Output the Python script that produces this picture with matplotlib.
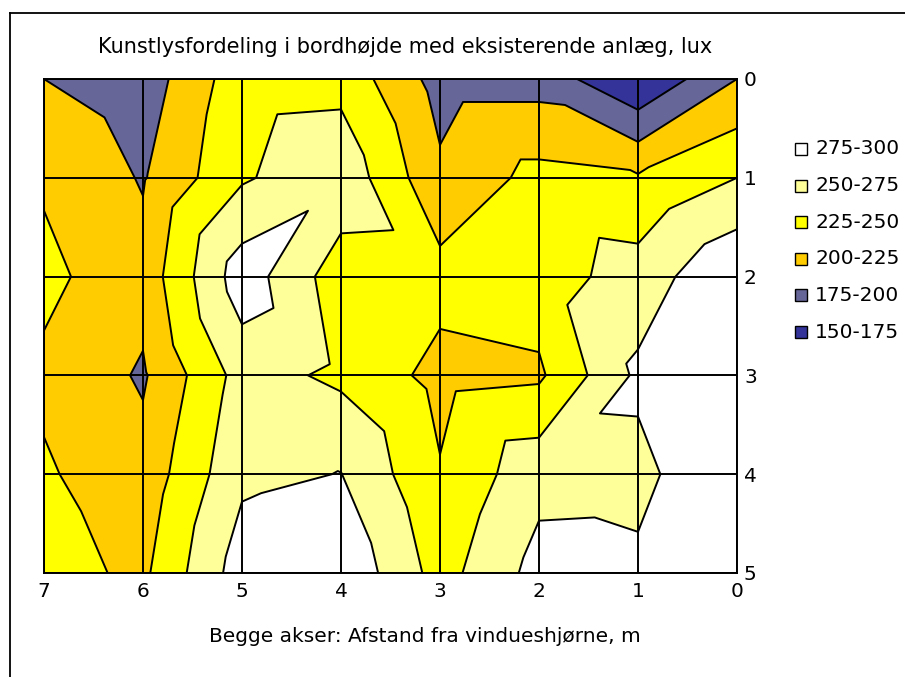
import numpy as np
import matplotlib.pyplot as plt
import matplotlib.tri as mtri
from matplotlib.lines import Line2D
from matplotlib.patches import Rectangle

plt.rcParams['font.family'] = ['DejaVu Sans']

# distances from the window corner, m
x_pos = [0, 1, 2, 3, 4, 5, 6, 7]
y_pos = [0, 1, 2, 3, 4, 5]

# lux at table height, one row per y, columns x = 0..7
lux_y0 = [200, 151, 190, 190, 242, 240, 186, 200]
lux_y1 = [250, 228, 233, 205, 268, 247, 198, 222]
lux_y2 = [298, 261, 238, 234, 236, 289, 209, 231]
lux_y3 = [295, 280, 221, 217, 245, 260, 197, 220]
lux_y4 = [299, 268, 267, 227, 275.5, 270, 209, 228]
lux_y5 = [295, 280, 284, 240, 296, 288, 220, 234]

levels = [150, 175, 200, 225, 250, 275, 300]
band_labels = ['150-175', '175-200', '200-225', '225-250', '250-275', '275-300']
band_colors = ['#333399', '#666699', '#FFCC00', '#FFFF00', '#FFFF99', '#FFFFFF']

grid = np.array([lux_y0, lux_y1, lux_y2, lux_y3, lux_y4, lux_y5], dtype=float)
nx, ny = len(x_pos), len(y_pos)

# Excel style surface: every cell cut into 4 triangles around its centre,
# centre value taken from the higher of the two diagonals
px, py, pv = [], [], []
for j in range(ny):
    for i in range(nx):
        px.append(x_pos[i]); py.append(y_pos[j]); pv.append(grid[j, i])
tris = []
for j in range(ny - 1):
    for i in range(nx - 1):
        a, b = j * nx + i, j * nx + i + 1
        c, d = (j + 1) * nx + i + 1, (j + 1) * nx + i
        diag1 = (grid[j, i] + grid[j + 1, i + 1]) / 2
        diag2 = (grid[j, i + 1] + grid[j + 1, i]) / 2
        m = len(px)
        px.append((x_pos[i] + x_pos[i + 1]) / 2)
        py.append((y_pos[j] + y_pos[j + 1]) / 2)
        pv.append(max(diag1, diag2))
        tris += [[a, b, m], [b, c, m], [c, d, m], [d, a, m]]

tri = mtri.Triangulation(px, py, tris)

fig = plt.figure(figsize=(9.05, 6.77), dpi=100)
ax = fig.add_axes([44 / 905, 1 - 573 / 677, 693 / 905, 494 / 677])

ax.tricontourf(tri, pv, levels=levels, colors=band_colors, antialiased=True)
ax.tricontour(tri, pv, levels=levels[1:-1], colors='black', linewidths=1.4)

ax.set_xlim(7, 0)
ax.set_ylim(5, 0)
ax.set_xticks(x_pos)
ax.set_yticks(y_pos)
ax.grid(True, color='black', linewidth=1.4)
ax.set_axisbelow(False)
ax.yaxis.tick_right()
ax.tick_params(length=0, labelsize=14.5)
ax.tick_params(axis='x', pad=6.5)
ax.tick_params(axis='y', pad=5)
for s in ax.spines.values():
    s.set_linewidth(1.4)

fig.text(405 / 905, 1 - 47 / 677, 'Kunstlysfordeling i bordhøjde med eksisterende anlæg, lux',
         ha='center', va='center', fontsize=15)
fig.text(425 / 905, 1 - 636 / 677, 'Begge akser: Afstand fra vindueshjørne, m',
         ha='center', va='center', fontsize=14.5)

# legend, highest band on top
for k, (lab, col) in enumerate(zip(band_labels[::-1], band_colors[::-1])):
    yc = 149 + k * 36.6
    fig.patches.append(Rectangle((795 / 905, 1 - (yc + 6) / 677), 12 / 905, 12 / 677,
                                 facecolor=col, edgecolor='black', linewidth=1,
                                 transform=fig.transFigure))
    fig.text(815 / 905, 1 - yc / 677, lab, ha='left', va='center', fontsize=14.5)

# chart area border (top and left edges visible)
fig.add_artist(Line2D([9.5 / 905, 1.0], [1 - 12.5 / 677] * 2, color='black', linewidth=1.3,
                      transform=fig.transFigure))
fig.add_artist(Line2D([9.5 / 905] * 2, [0, 1 - 12.5 / 677], color='black', linewidth=1.3,
                      transform=fig.transFigure))

fig.savefig('out.png', dpi=100)
